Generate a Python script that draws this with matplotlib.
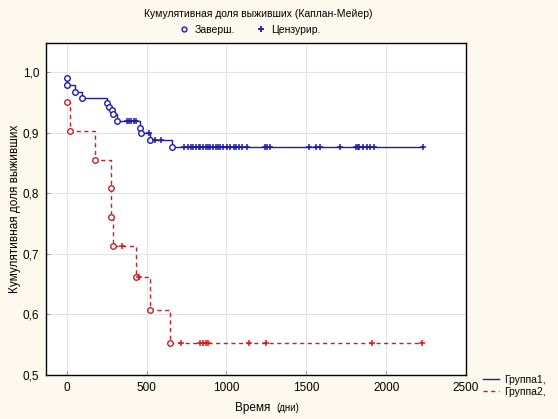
import numpy as np
import matplotlib
matplotlib.use("Agg")
import matplotlib.pyplot as plt
from matplotlib.lines import Line2D

plt.rcParams['font.family'] = ['Liberation Sans', 'DejaVu Sans']

# group 1: event times / survival after each event
g1_event_t = [0, 4, 52, 98, 250, 267, 281, 290, 312, 458, 462, 521, 656]
g1_surv = [0.990, 0.979, 0.967, 0.958, 0.949, 0.943, 0.937, 0.930, 0.919,
           0.908, 0.899, 0.888, 0.877]
g1_cens_t = [378, 392, 405, 420, 433, 517, 552, 590,
             733, 760, 775, 792, 808, 825, 837, 854, 869, 885, 900, 917,
             933, 948, 962, 979, 1004, 1025, 1046, 1062, 1079, 1100, 1129,
             1240, 1254, 1271, 1516, 1563, 1583, 1708, 1810, 1822, 1833,
             1854, 1883, 1896, 1927, 2228]

# group 2
g2_event_t = [0, 21, 177, 277, 280, 291, 433, 521, 646]
g2_surv = [0.951, 0.903, 0.855, 0.808, 0.760, 0.713, 0.662, 0.607, 0.552]
g2_cens_t = [344, 454, 715, 833, 854, 870, 885, 1140, 1246, 1912, 2224]

xticks = [0, 500, 1000, 1500, 2000, 2500]
yticks = [0.5, 0.6, 0.7, 0.8, 0.9, 1.0]
ytick_labels = ["0,5", "0,6", "0,7", "0,8", "0,9", "1,0"]

blue = "#1c1ca8"
red = "#c42028"
red_cross = "#e01818"


def surv_at(t_ev, s_ev, t):
    idx = np.searchsorted(t_ev, t, side="right") - 1
    return np.array(s_ev)[idx]


fig = plt.figure(figsize=(5.58, 4.19), dpi=100, facecolor="#fdf9ee")
ax = fig.add_axes([46/558, 1-375/419, (466-46)/558, (375-43)/419])
ax.set_facecolor("white")

# group 1 curve
x1 = list(g1_event_t) + [max(g1_cens_t)]
y1 = list(g1_surv) + [g1_surv[-1]]
ax.plot(x1, y1, drawstyle="steps-post", color=blue, lw=1.0, zorder=3)
ax.plot(g1_event_t, g1_surv, ls="none", marker="o", ms=4, mfc="white",
        mec=blue, mew=1.0, zorder=4)
ax.plot(g1_cens_t, surv_at(g1_event_t, g1_surv, g1_cens_t), ls="none",
        marker="+", ms=5, mec=blue, mew=1.1, zorder=4)

# group 2 curve
x2 = list(g2_event_t) + [max(g2_cens_t)]
y2 = list(g2_surv) + [g2_surv[-1]]
ax.plot(x2, y2, drawstyle="steps-post", color=red, lw=1.0, ls=(0, (3, 2.5)), zorder=3)
ax.plot(g2_event_t, g2_surv, ls="none", marker="o", ms=4, mfc="white",
        mec=red, mew=1.0, zorder=4)
ax.plot(g2_cens_t, surv_at(g2_event_t, g2_surv, g2_cens_t), ls="none",
        marker="+", ms=5, mec=red_cross, mew=1.1, zorder=4)

ax.set_xlim(-130, 2500)
ax.set_ylim(0.5, 1.048)
ax.set_xticks(xticks)
ax.set_yticks(yticks)
ax.set_yticklabels(ytick_labels)
ax.grid(True, color="#e4e4e4", lw=0.8)
ax.set_axisbelow(True)
ax.tick_params(direction="in", length=3, width=0.6, labelsize=8.5, pad=5,
               color="#888888")
for s in ax.spines.values():
    s.set_color("black")
    s.set_linewidth(1.0)

ax.set_ylabel("Кумулятивная доля выживших", fontsize=8.5, labelpad=1)

# x label: "Время" and smaller "(дни)"
fig.text(270/558, 1-408/419, "Время", fontsize=8.5, ha="right", va="center")
fig.text(276/558, 1-408/419, "(дни)", fontsize=7, ha="left", va="center")

fig.text(258/558, 1-14/419, "Кумулятивная доля выживших (Каплан-Мейер)",
         fontsize=7.5, ha="center", va="center")

top_handles = [
    Line2D([], [], ls="none", marker="o", ms=3.5, mfc="white", mec=blue, mew=1.0),
    Line2D([], [], ls="none", marker="+", ms=5, mec=blue, mew=1.3),
]
fig.legend(top_handles, ["Заверш.", "Цензурир."], loc="center",
           bbox_to_anchor=(250/558, 1-30/419), ncol=2, frameon=False,
           fontsize=7.5, handlelength=1.0, handletextpad=0.5, columnspacing=2.0)

bot_handles = [
    Line2D([], [], color=blue, lw=1.0),
    Line2D([], [], color=red, lw=1.0, ls=(0, (3, 2.5))),
]
fig.legend(bot_handles, ["Группа1,", "Группа2,"], loc="center left",
           bbox_to_anchor=(474/558, 1-386/419), frameon=False, fontsize=7.5,
           handlelength=1.5, handletextpad=0.5, labelspacing=0.2)

fig.savefig("out.png", dpi=100, facecolor=fig.get_facecolor())
